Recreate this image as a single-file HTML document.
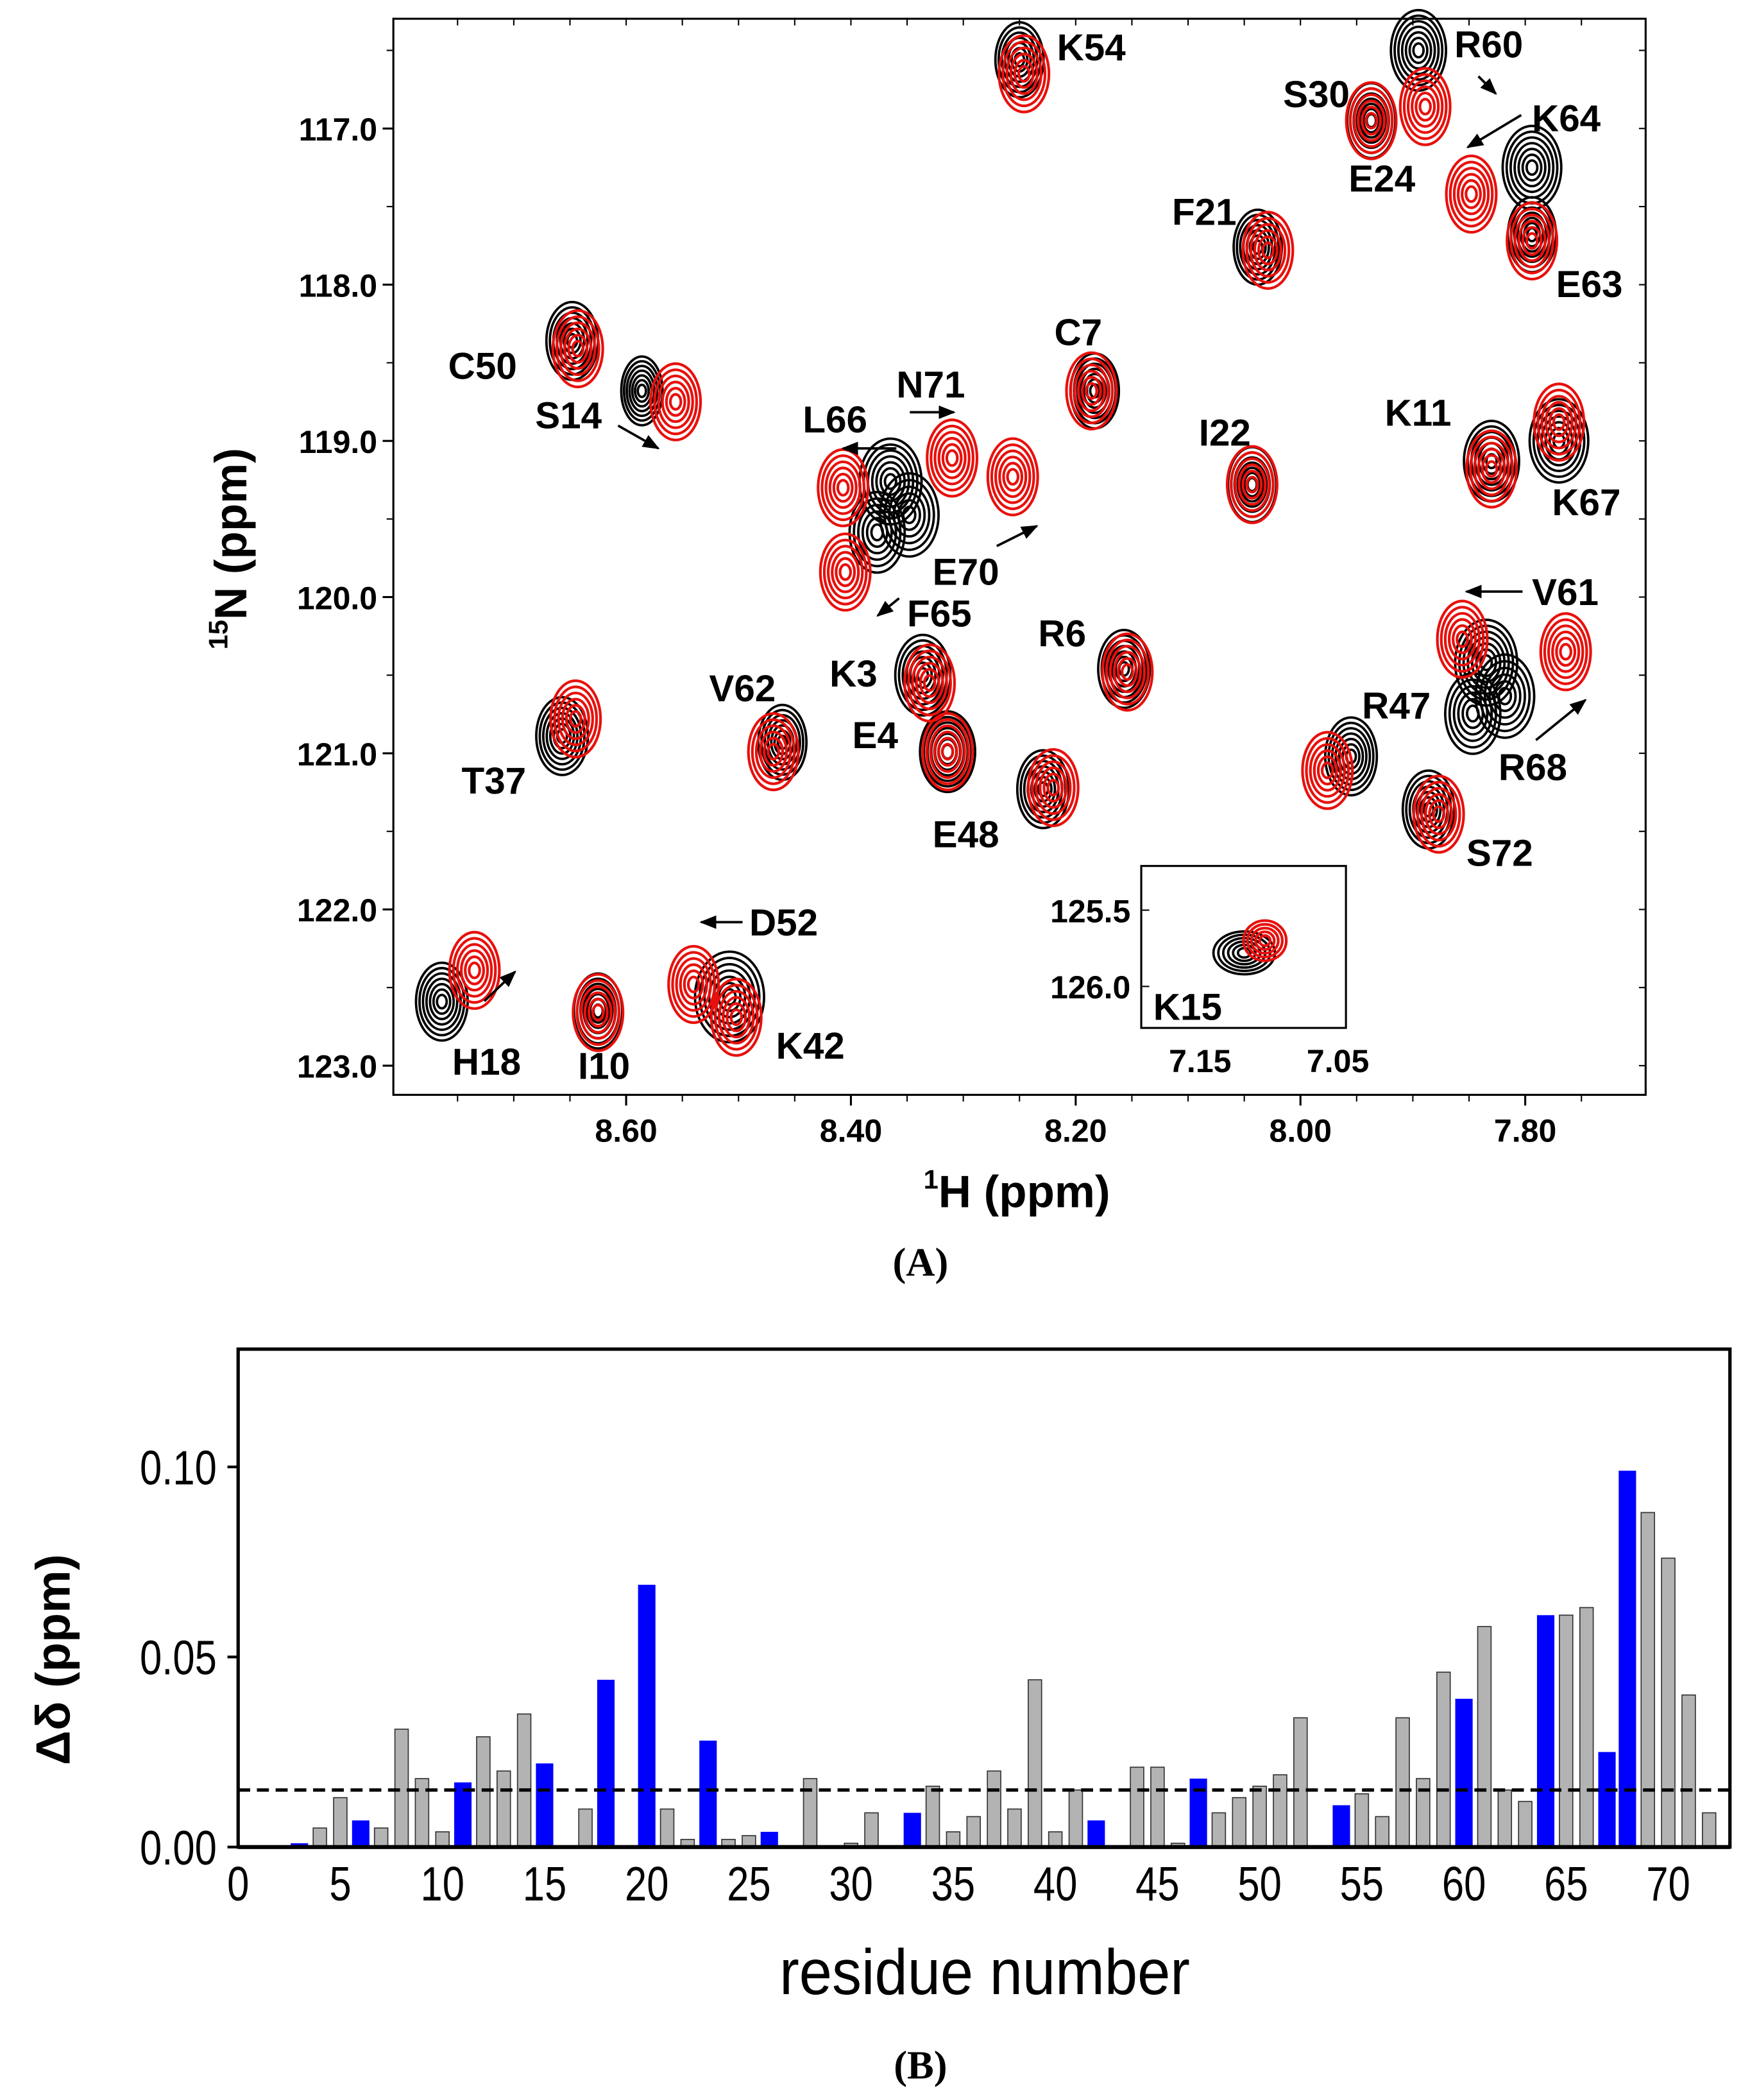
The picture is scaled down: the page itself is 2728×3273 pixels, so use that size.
<!DOCTYPE html>
<html><head><meta charset="utf-8"><style>
html,body{margin:0;padding:0;background:#fff;}
svg{display:block;}
.lbl{font-family:"Liberation Sans",sans-serif;font-weight:bold;font-size:28px;fill:#000;}
.tk{font-family:"Liberation Sans",sans-serif;font-weight:bold;font-size:24px;fill:#000;}
.tkb{font-family:"Liberation Sans",sans-serif;font-size:36px;fill:#000;}
</style></head><body>
<svg id="fig" width="2728" height="3273" viewBox="0 0 1308 1569" preserveAspectRatio="none" xmlns="http://www.w3.org/2000/svg">
<defs><marker id="ah" viewBox="0 0 10 10" refX="9" refY="5" markerWidth="7" markerHeight="7" orient="auto"><path d="M0,1 L10,5 L0,9 z" fill="#000"/></marker></defs>
<g id="pa"></g>
<g id="pb"></g>
</svg>
<script>
// ---- Panel A data (ppm) ----
const blackH=[8.25,7.937,7.895,7.794,7.794,8.038,8.648,8.586,8.183,8.36,8.043,7.83,7.770,7.83,8.157,8.336,8.314,8.461,8.657,8.229,7.955,7.886,8.764,8.625,8.508];
const blackN=[116.56,116.95,116.50,117.25,117.68,117.76,118.36,118.68,118.68,119.26,119.28,119.13,119.0,120.42,120.46,120.50,120.99,120.93,120.89,121.23,121.02,121.36,122.59,122.65,122.56];
const blackSz=[1,1,1.2,1.3,1,1,1.1,0.8,1,2.4,1,1.2,1.3,2,1.1,1.2,1.2,1,1.1,1.1,1.1,1.1,1.1,1,1.6];
const redH=[8.246,7.937,7.889,7.848,7.794,8.029,8.643,8.556,8.186,8.407,8.405,8.31,8.256,8.043,7.83,7.770,7.856,7.764,8.154,8.330,8.314,8.469,8.645,8.220,7.976,7.877,8.735,8.625,8.540,8.502];
const redN=[116.65,116.95,116.86,117.42,117.72,117.78,118.41,118.75,118.68,119.30,119.84,119.11,119.23,119.28,119.18,118.88,120.27,120.35,120.48,120.55,120.99,120.99,120.78,121.22,121.11,121.39,122.39,122.66,122.48,122.69];
const insetBH=[7.118], insetBN=[125.78], insetRH=[7.103], insetRN=[125.70];
const xTicksA=[8.60,8.40,8.20,8.00,7.80];
const yTicksA=[117,118,119,120,121,122,123];
// ---- Panel B data ----
const residues=[3,4,5,6,7,8,9,10,11,12,13,14,15,17,18,20,21,22,23,24,25,26,28,30,31,33,34,35,36,37,38,39,40,41,42,44,45,46,47,48,49,50,51,52,54,55,56,57,58,59,60,61,62,63,64,65,66,67,68,69,70,71,72];
const deltas=[0.001,0.005,0.013,0.007,0.005,0.031,0.018,0.004,0.017,0.029,0.020,0.035,0.022,0.010,0.044,0.069,0.010,0.002,0.028,0.002,0.003,0.004,0.018,0.001,0.009,0.009,0.016,0.004,0.008,0.020,0.010,0.044,0.004,0.015,0.007,0.021,0.021,0.001,0.018,0.009,0.013,0.016,0.019,0.034,0.011,0.014,0.008,0.034,0.018,0.046,0.039,0.058,0.015,0.012,0.061,0.061,0.063,0.025,0.099,0.088,0.076,0.040,0.009];
const highlighted=[3,6,11,15,18,20,23,26,33,42,47,54,60,64,67,68];
const xTicksB=[0,5,10,15,20,25,30,35,40,45,50,55,60,65,70];
const yTicksB=[0,0.05,0.10];
const threshold=0.015;

const NS="http://www.w3.org/2000/svg";
function mk(tag,attrs,parent,text){const e=document.createElementNS(NS,tag);for(const k in attrs)e.setAttribute(k,attrs[k]);if(text!==undefined)e.textContent=text;parent.appendChild(e);return e;}
const pa=document.getElementById('pa'), pb=document.getElementById('pb');

const xA=h=>468+(8.60-h)*840;
const yA=n=>96+(n-117)*116.7;
let fr=mk('rect',{x:294,y:14,width:936,height:804,fill:'none',stroke:'#000','stroke-width':1.5},pa);


function peak(cx,cy,s,color,rings,g){
  for(let i=0;i<rings;i++){const f=1-i/rings;
    mk('ellipse',{cx:cx,cy:cy,rx:(13*s+4)*f+1,ry:(22*Math.sqrt(s)+5)*f+1,fill:'none',stroke:color,'stroke-width':color==='#000'?1.8:2},g);}
}
const gB=mk('g',{},pa);
blackH.forEach((h,i)=>{const s=blackSz[i];
  if(s>1.8){peak(xA(h)-4,yA(blackN[i]),1.4,'#000',7,gB);peak(xA(h)-14,yA(blackN[i])+38,1.2,'#000',6,gB);peak(xA(h)+10,yA(blackN[i])+25,1.3,'#000',6,gB);}
  else peak(xA(h),yA(blackN[i]),s,'#000',7,gB);});
const gR=mk('g',{},pa);
redH.forEach((h,i)=>{peak(xA(h),yA(redN[i]),1.05,'#e8100c',6,gR);});
xTicksA.forEach(t=>{const x=xA(t);mk('line',{x1:x,y1:818,x2:x,y2:826,stroke:'#000','stroke-width':1.5},pa);
  const tl=mk('text',{x:x,y:853,'text-anchor':'middle',class:'tk'},pa,t.toFixed(2));});
for(let t=8.75;t>=7.70;t-=0.05){const x=xA(t);if(x>294&&x<1230){mk('line',{x1:x,y1:818,x2:x,y2:823,stroke:'#000','stroke-width':1},pa);mk('line',{x1:x,y1:14,x2:x,y2:19,stroke:'#000','stroke-width':1},pa);}}
yTicksA.forEach(t=>{const y=yA(t);mk('line',{x1:286,y1:y,x2:294,y2:y,stroke:'#000','stroke-width':1.5},pa);
  const tl=mk('text',{x:282,y:y+9,'text-anchor':'end',class:'tk'},pa,t.toFixed(1));});
for(let t=116.5;t<=123.0;t+=0.5){const y=yA(t);mk('line',{x1:289,y1:y,x2:294,y2:y,stroke:'#000','stroke-width':1},pa);mk('line',{x1:1225,y1:y,x2:1230,y2:y,stroke:'#000','stroke-width':1},pa);}
let t1=mk('text',{x:760,y:902,'text-anchor':'middle',class:'lbl','font-size':34},pa);t1.innerHTML='<tspan font-size="20" dy="-14">1</tspan><tspan dy="14" font-size="34">H (ppm)</tspan>';

let t2=mk('text',{transform:'translate(184,410) rotate(-90)','text-anchor':'middle',class:'lbl','font-size':34},pa);t2.innerHTML='<tspan font-size="20" dy="-14">15</tspan><tspan dy="14" font-size="34">N (ppm)</tspan>';

let pl=mk('text',{x:688,y:953,'text-anchor':'middle','font-family':'Liberation Serif, serif','font-weight':'bold','font-size':30},pa,'(A)');

const labels=[["K54",790,45],["R60",1087,43],["S30",959,80],["K64",1145,98],["E24",1008,143],["E63",1163,222],["F21",876,168],["C50",335,283],["S14",400,320],["C7",788,258],["N71",670,297],["L66",600,323],["I22",896,333],["K11",1035,318],["K67",1160,385],["V61",1145,452],["E70",697,437],["F65",678,468],["R6",776,483],["K3",620,513],["V62",530,524],["E4",637,559],["T37",345,593],["E48",697,633],["R47",1018,537],["R68",1120,583],["S72",1096,647],["D52",560,699],["H18",338,803],["I10",432,806],["K42",580,791]];
labels.forEach(l=>{const e=mk('text',{x:l[1],y:l[2],class:'lbl'},pa,l[0]);});
const arrows=[[1105,57,1118,70],[1137,86,1097,110],[462,318,492,335],[680,308,713,308],[670,335,630,335],[745,408,775,393],[672,447,656,460],[1138,442,1096,442],[1148,553,1185,523],[555,689,524,689],[362,748,385,726],[945,752,967,737]];
arrows.forEach(a=>{const e=mk('line',{x1:a[0],y1:a[1],x2:a[2],y2:a[3],stroke:'#000','stroke-width':1.8,'marker-end':'url(#ah)'},pa);});
const ib=mk('rect',{x:853,y:647,width:153,height:121,fill:'#fff',stroke:'#000','stroke-width':1.5},pa);

const xI=h=>897+(7.15-h)*1030, yI=n=>680+(n-125.5)*114;
insetBH.forEach((h,i)=>{for(let k=0;k<6;k++){const f=1-k/6;mk('ellipse',{cx:xI(h),cy:yI(insetBN[i]),rx:22*f+1,ry:15*f+1,fill:'none',stroke:'#000','stroke-width':1.8},pa);}});
insetRH.forEach((h,i)=>{for(let k=0;k<5;k++){const f=1-k/5;mk('ellipse',{cx:xI(h),cy:yI(insetRN[i]),rx:15*f+1,ry:14*f+1,fill:'none',stroke:'#e8100c','stroke-width':2},pa);}});
[7.15,7.05].forEach(t=>{mk('text',{x:xI(t),y:801,'text-anchor':'middle',class:'tk'},pa,t.toFixed(2));});
[125.5,126.0].forEach(t=>{const y=yI(t);mk('line',{x1:853,y1:y,x2:859,y2:y,stroke:'#000'},pa);mk('text',{x:845,y:y+9,'text-anchor':'end',class:'tk'},pa,t.toFixed(1));});
let k15=mk('text',{x:862,y:762,class:'lbl'},pa,'K15');

// ---- Panel B ----
const xB=r=>178+r*15.27;
const yB=v=>1380-v*2840;
let fb=mk('rect',{x:178,y:1008,width:1115,height:372,fill:'none',stroke:'#000','stroke-width':2.5},pb);

residues.forEach((r,i)=>{const blue=highlighted.includes(r);const w=blue?13:10;const v=deltas[i];
  const b=mk('rect',{x:xB(r)-w/2,y:yB(v),width:w,height:1380-yB(v),fill:blue?'#0000ff':'#b3b3b3',stroke:blue?'none':'#333','stroke-width':0.8},pb);
  
  });
mk('line',{x1:178,y1:1380,x2:1293,y2:1380,stroke:'#000','stroke-width':3},pb);
const th=mk('line',{x1:178,y1:yB(threshold),x2:1293,y2:yB(threshold),stroke:'#000','stroke-width':2.5,'stroke-dasharray':'9,5'},pb);

xTicksB.forEach(t=>{const e=mk('text',{transform:'translate('+xB(t)+',1420) scale(0.82,1)','text-anchor':'middle',class:'tkb'},pb,String(t));});
yTicksB.forEach(t=>{const y=yB(t);mk('line',{x1:170,y1:y,x2:178,y2:y,stroke:'#000','stroke-width':2},pb);
  const e=mk('text',{transform:'translate(162,'+(y+13)+') scale(0.82,1)','text-anchor':'end',class:'tkb','font-size':40},pb,t.toFixed(2));});
let xt=mk('text',{transform:'translate(736,1490) scale(0.92,1)','text-anchor':'middle','font-family':'Liberation Sans, sans-serif','font-size':48},pb,'residue number');

let yt=mk('text',{transform:'translate(52,1240) rotate(-90)','text-anchor':'middle','font-family':'Liberation Sans, sans-serif','font-size':36,'font-weight':'bold'},pb,'Δδ (ppm)');

let pbl=mk('text',{x:688,y:1553,'text-anchor':'middle','font-family':'Liberation Serif, serif','font-weight':'bold','font-size':30},pb,'(B)');

</script>
</body></html>
